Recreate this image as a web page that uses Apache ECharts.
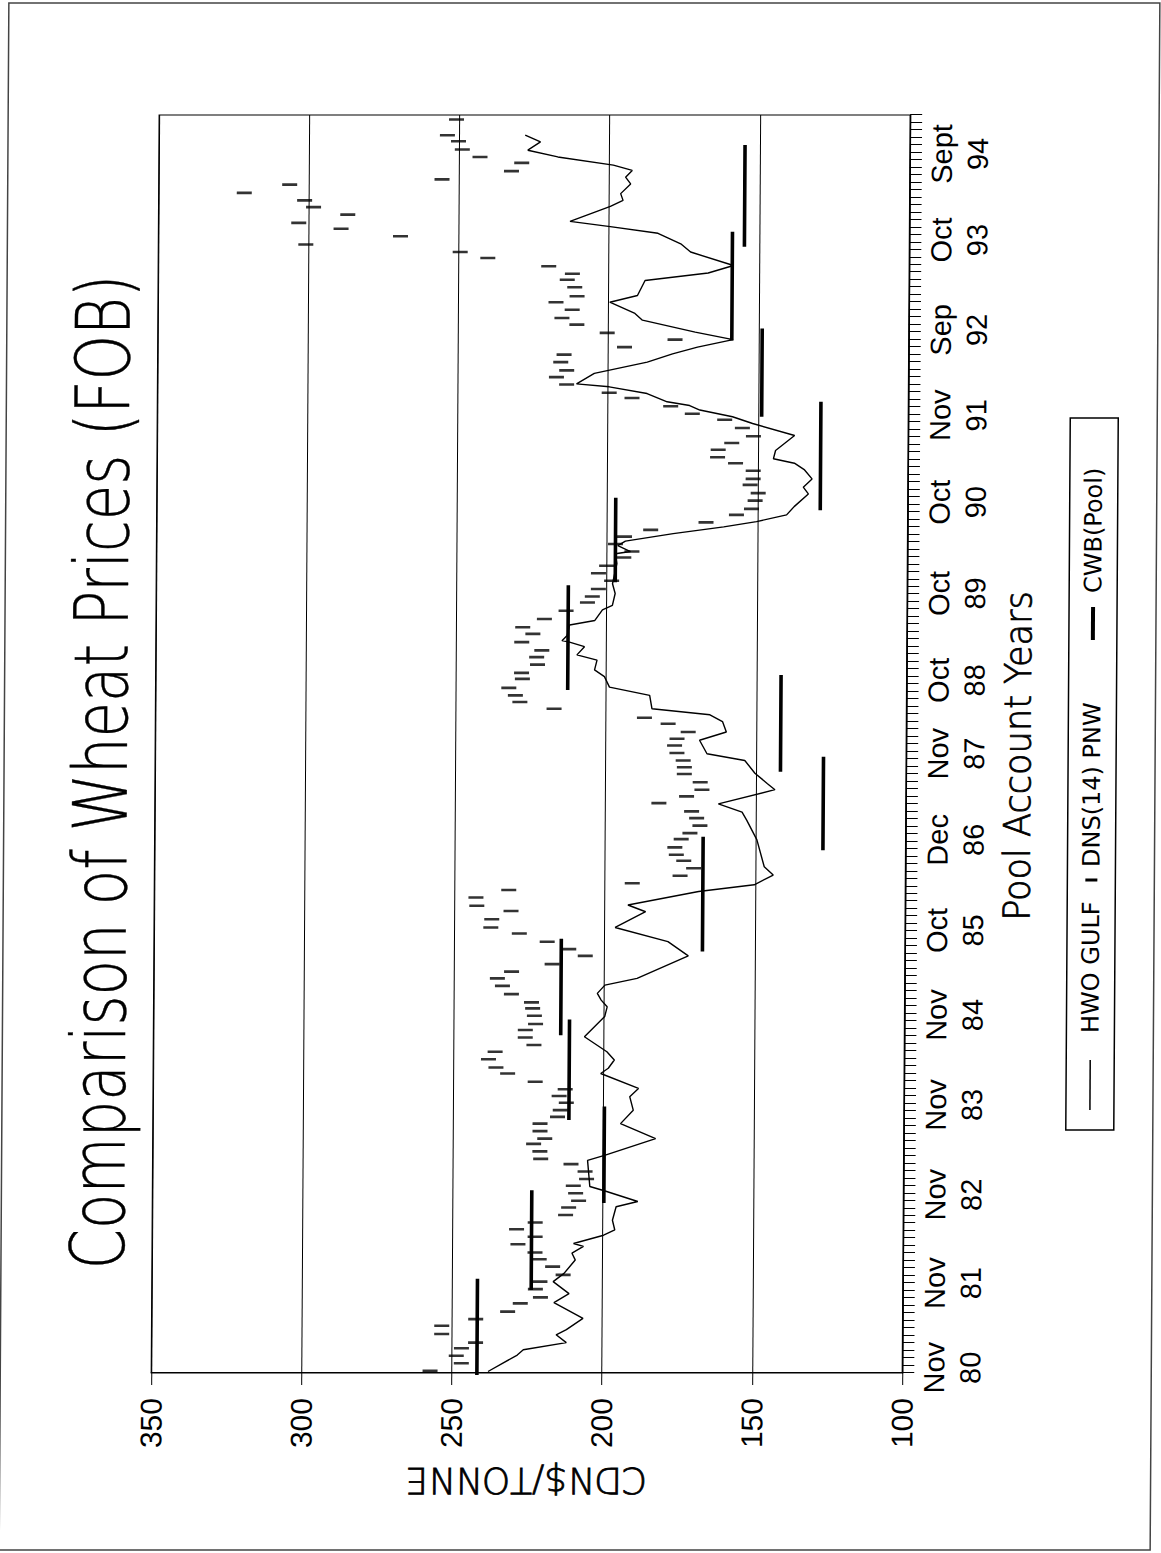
<!DOCTYPE html>
<html>
<head>
<meta charset="utf-8">
<title>Comparison of Wheat Prices (FOB)</title>
<script src="https://cdn.jsdelivr.net/npm/echarts@6/dist/echarts.min.js"></script>
<style>
  html, body { margin: 0; padding: 0; width: 1161px; height: 1553px; overflow: hidden; background: #fff; }
  /* the chart is laid out landscape and turned a quarter turn to stand on the page */
  #chart {
    position: absolute; left: -196px; top: 196px;
    width: 1553px; height: 1161px;
    transform: skewX(-0.36deg) rotate(-90deg);
  }
</style>
</head>
<body>
<div id="chart"></div>
<script>
// ---- time axis: observation index, labelled at the start of each pool account year ----
const timeLabelPos = [0.7, 12.0, 23.8, 35.8, 47.8, 59.1, 71.2, 82.7, 92.5, 104.1, 116.3, 127.9, 139.3, 151.3, 162.8];
const timeLabels = ['Nov\n80', 'Nov\n81', 'Nov\n82', 'Nov\n83', 'Nov\n84', 'Oct\n85', 'Dec\n86', 'Nov\n87',
                    'Oct\n88', 'Oct\n89', 'Oct\n90', 'Nov\n91', 'Sep\n92', 'Oct\n93', 'Sept\n94'];
const timeMin = 0, timeMax = 168;

// ---- price axis (CDN$/tonne) ----
const priceMin = 100, priceMax = 350, priceStep = 50;

// ---- HWO Gulf price, [index, CDN$/t] ----
const hwoGulf = [
  [0.2,237.9],[2.4,228.2],[3.1,226.2],[4.05,211.9],[5.1,215.3],[5.8,211.9],[7.3,206.4],[9.4,216.1],[10.6,211.1],
  [12.2,216.4],[13.3,212.8],[15.1,209.1],[16.0,210.2],[16.9,206.4],[17.3,209.7],[18.4,199.7],[19.1,196.0],[20.4,196.8],
  [22.2,195.6],[22.9,188.4],[24.3,199.3],[24.9,204.4],[28.4,205.2],[29.1,199.3],[31.3,182.6],[33.3,194.3],[35.1,190.1],
  [36.9,191.3],[38.0,188.4],[40.0,201.0],[40.7,198.5],[41.8,196.5],[42.9,199.0],[44.9,206.5],[47.6,199.8],[48.9,199.0],
  [49.8,201.0],[50.7,202.3],[51.8,199.8],[52.7,189.1],[55.7,172.1],[57.6,178.9],[59.5,196.5],[61.6,186.4],[62.5,192.3],
  [64.3,168.8],[65.2,150.3],[66.5,144.0],[67.6,147.0],[71.2,149.5],[73.8,152.9],[74.9,154.5],[76.0,162.4],[77.9,143.6],
  [78.7,146.1],[80.1,150.3],[81.8,153.7],[82.7,166.3],[84.5,168.8],[85.6,159.9],[87.0,161.2],[87.9,165.4],[88.7,184.7],
  [90.5,185.5],[91.6,198.9],[93.0,200.6],[93.9,203.9],[95.2,203.1],[95.9,209.8],[97.0,207.3],[97.6,212.3],[97.8,214.8],
  [98.5,213.1],[99.9,212.3],[100.5,203.9],[101.9,201.4],[102.5,198.1],[104.1,197.2],[105.4,198.1],[108.1,196.7],
  [109.4,197.2],[109.7,192.2],[110.5,196.4],[111.1,193.9],[112.1,178.0],[113.0,161.2],[113.7,150.3],[114.6,140.3],
  [115.7,137.8],[117.4,133.1],[118.3,134.8],[119.4,131.9],[120.6,134.4],[121.5,137.8],[122.1,144.8],[123.2,144.1],
  [125.2,137.8],[126.8,151.8],[127.7,158.5],[128.6,169.4],[129.2,172.8],[129.7,180.3],[130.8,187.0],[131.7,199.6],
  [132.1,210.5],[133.5,204.6],[135.0,187.0],[136.1,178.6],[137.0,170.3],[138.0,158.5],[139.0,171.1],[140.6,188.7],
  [141.5,191.2],[143.0,199.6],[143.9,190.4],[145.9,187.9],[146.9,166.9],[147.9,158.5],[149.7,172.8],[150.8,176.1],
  [152.2,183.7],[153.1,199.6],[153.8,213.0],[155.8,199.6],[156.6,195.4],[157.5,196.2],[158.8,192.9],[159.7,194.6],
  [160.6,192.4],[161.3,198.7],[162.4,217.2],[163.3,227.2],[164.4,223.0],[165.3,228.1]
];

// ---- DNS(14) PNW monthly quotes, [index, CDN$/t] ----
const dnsPnw = [
  [0.3,257.2],[1.3,246.8],[2.3,248.5],[3.3,246.8],[4.05,242.1],[5.2,253.4],[6.3,253.4],[7.2,242.1],[8.2,231.5],
  [9.3,227.3],[10.1,220.6],[11.2,222.3],[12.2,220.8],[13.1,213.1],[14.2,216.6],[15.2,221.1],[16.1,222.5],[17.2,228.2],
  [18.2,222.5],[19.2,228.7],[20.1,222.5],[21.1,212.4],[22.1,211.4],[23.0,208.1],[24.0,209.1],[25.0,209.9],[25.9,205.5],
  [26.9,206.0],[27.9,210.7],[28.6,220.8],[29.6,221.1],[30.6,223.2],[31.3,219.5],[32.3,221.1],[33.3,221.1],[34.2,215.3],
  [35.1,214.4],[36.1,212.4],[37.0,214.8],[37.9,212.8],[38.9,222.8],[40.0,232.0],[40.8,235.9],[41.9,238.4],[42.9,236.2],
  [43.8,223.3],[44.8,226.2],[45.8,226.2],[46.6,222.8],[47.7,223.2],[48.7,223.8],[49.5,224.2],[50.6,230.9],[51.7,233.9],
  [52.7,235.6],[53.6,230.9],[54.6,217.4],[55.7,206.4],[56.6,211.9],[57.6,219.1],[58.7,228.4],[59.5,237.9],[60.6,237.6],
  [61.7,231.2],[62.4,242.6],[63.5,242.9],[64.5,232.0],[65.4,190.9],[66.4,175.0],[67.4,170.5],[68.4,173.8],[69.2,176.3],
  [70.2,176.8],[71.3,174.7],[72.1,171.8],[73.1,168.5],[74.1,169.6],[75.0,171.3],[76.1,182.2],[77.0,173.0],[77.9,167.9],
  [78.9,168.5],[80.0,173.8],[80.9,173.8],[81.8,174.2],[82.8,176.3],[83.8,177.1],[84.7,176.3],[85.6,172.6],[86.7,179.3],
  [87.5,187.2],[88.7,217.3],[89.6,228.7],[90.5,230.2],[91.5,232.4],[92.7,227.9],[93.5,228.2],[94.6,222.9],[95.6,223.2],
  [96.5,221.5],[97.6,228.2],[98.7,224.5],[99.6,227.9],[100.7,220.7],[101.8,213.5],[102.9,206.4],[103.7,204.8],
  [104.7,202.8],[105.8,198.4],[106.8,202.8],[107.8,200.1],[108.9,194.4],[109.7,191.7],[110.7,197.2],[111.7,194.2],
  [112.6,185.5],[113.6,167.1],[114.6,157.0],[115.4,152.0],[116.5,150.8],[117.5,149.8],[118.6,152.5],[119.4,151.5],
  [120.5,151.5],[121.5,157.4],[122.3,163.4],[123.3,163.2],[124.2,158.7],[125.1,151.5],[126.2,155.2],[127.3,161.1],
  [128.1,171.9],[129.1,179.1],[130.2,192.0],[130.9,199.6],[132.0,213.8],[133.0,217.2],[133.9,213.8],[135.0,215.8],
  [136.0,214.7],[137.0,194.6],[138.0,177.8],[138.9,200.4],[140.0,210.5],[140.9,215.5],[142.0,212.1],[143.0,217.5],
  [143.8,210.5],[145.0,211.3],[146.0,213.8],[146.8,212.1],[147.8,220.0],[148.9,240.3],[149.7,249.5],[150.7,300.9],
  [151.8,269.4],[152.8,289.2],[153.6,303.3],[154.7,287.0],[155.7,298.4],[156.6,301.4],[157.6,321.5],[158.7,306.4],
  [159.4,255.7],[160.5,232.6],[161.6,229.2],[162.4,243.1],[163.4,249.0],[164.5,250.3],[165.3,254.0],[167.4,251.0]
];

// ---- CWB pool returns: [first index, last index, CDN$/t] ----
const cwbPool = [
  [-1.2, 12.6, 241.6], [11.1, 24.4, 223.7], [22.7, 35.6, 199.7], [33.8, 47.2, 211.5],
  [45.1, 58.0, 214.4], [56.3, 71.6, 167.4], [69.8, 82.3, 127.5], [80.3, 93.2, 141.8],
  [91.2, 105.2, 212.8], [105.6, 116.9, 197.2], [115.2, 129.7, 129.1], [127.7, 139.5, 148.8],
  [137.9, 152.4, 158.9], [150.4, 164.0, 154.9]
];

// one polyline, broken between pool years
const cwbLine = [];
cwbPool.forEach(([s, e, v]) => { cwbLine.push([s, v], [e, v], [e, '-']); });

const monthTicks = [];
for (let t = timeMin; t <= timeMax; t += 1) monthTicks.push(t);

const ink = '#000';
const labelFont = '"Liberation Sans", Arial, sans-serif';
const textFont = '"DejaVu Sans", "Liberation Sans", sans-serif';

const chart = echarts.init(document.getElementById('chart'), null, { renderer: 'svg' });

chart.setOption({
  animation: false,
  backgroundColor: '#fff',
  grid: { left: 180, right: 115, top: 155, bottom: 255, show: true, borderColor: ink, borderWidth: 1.2, backgroundColor: 'transparent' },
  xAxis: {
    type: 'value', min: timeMin, max: timeMax, interval: 1,
    axisLine: { lineStyle: { color: ink, width: 1.2 } },
    axisTick: { show: true, inside: false, length: 12, customValues: monthTicks, lineStyle: { color: ink, width: 1 } },
    axisLabel: {
      customValues: timeLabelPos,
      formatter: (val) => { const i = timeLabelPos.indexOf(val); return i >= 0 ? timeLabels[i] : ''; },
      margin: 14, color: ink, fontSize: 29, lineHeight: 36, fontFamily: labelFont, align: 'center'
    },
    splitLine: { show: false }
  },
  yAxis: {
    type: 'value', min: priceMin, max: priceMax, interval: priceStep,
    name: 'CDN$/TONNE', nameLocation: 'middle', nameGap: 90, nameRotate: 90,
    nameTextStyle: { color: ink, fontSize: 36, fontWeight: 200, fontFamily: textFont, textBorderColor: ink, textBorderWidth: 0.8 },
    axisLine: { show: true, lineStyle: { color: ink, width: 1.2 } },
    axisTick: { show: true, inside: false, length: 12, lineStyle: { color: ink, width: 1 } },
    axisLabel: { margin: 25, color: ink, fontSize: 30, fontFamily: labelFont },
    splitLine: { show: true, lineStyle: { color: ink, width: 1 } }
  },
  series: [
    {
      name: 'HWO GULF', type: 'line', data: hwoGulf, symbol: 'none', z: 4,
      lineStyle: { color: ink, width: 1.4 }
    },
    {
      name: 'DNS(14) PNW', type: 'scatter', data: dnsPnw, symbol: 'rect', symbolSize: [2.6, 15], z: 5,
      itemStyle: { color: ink, borderWidth: 0 }
    },
    {
      name: 'CWB(Pool)', type: 'line', data: cwbLine, symbol: 'none', connectNulls: false, clip: false, z: 3,
      lineStyle: { color: ink, width: 3.6 }
    }
  ],
  graphic: [
    { type: 'rect', silent: true, shape: { x: 3, y: 4, width: 1547, height: 1151 },
      style: { fill: 'none', stroke: '#444', lineWidth: 1.5 } },
    { type: 'text', silent: true, x: 781, y: 101, scaleX: 0.77,
      style: { text: 'Comparison of Wheat Prices (FOB)', fontSize: 75, fontWeight: 200, fontFamily: textFont, fill: ink,
               stroke: ink, lineWidth: 0.4,
               align: 'center', verticalAlign: 'middle', textAlign: 'center', textVerticalAlign: 'middle' } },
    { type: 'text', silent: true, x: 797, y: 1018, scaleX: 0.95,
      style: { text: 'Pool Account Years', fontSize: 37, fontWeight: 200, fontFamily: textFont, fill: ink,
               stroke: ink, lineWidth: 0.8,
               align: 'center', verticalAlign: 'middle', textAlign: 'center', textVerticalAlign: 'middle' } },
    {
      type: 'group', silent: true,
      children: [
        { type: 'rect', shape: { x: 423, y: 1068, width: 712, height: 48 }, style: { fill: '#fff', stroke: ink, lineWidth: 1.5 } },
        { type: 'line', shape: { x1: 443, y1: 1092, x2: 493, y2: 1092 }, style: { stroke: ink, lineWidth: 1.5 } },
        { type: 'text', x: 520, y: 1092, style: { text: 'HWO GULF', fontSize: 24, fontFamily: textFont, fill: ink,
            align: 'left', verticalAlign: 'middle', textAlign: 'left', textVerticalAlign: 'middle' } },
        { type: 'rect', shape: { x: 671.5, y: 1086, width: 3, height: 12 }, style: { fill: ink } },
        { type: 'text', x: 686, y: 1092, style: { text: 'DNS(14) PNW', fontSize: 24, fontFamily: textFont, fill: ink,
            align: 'left', verticalAlign: 'middle', textAlign: 'left', textVerticalAlign: 'middle' } },
        { type: 'line', shape: { x1: 913, y1: 1092, x2: 946, y2: 1092 }, style: { stroke: ink, lineWidth: 4 } },
        { type: 'text', x: 960, y: 1092, style: { text: 'CWB(Pool)', fontSize: 24, fontFamily: textFont, fill: ink,
            align: 'left', verticalAlign: 'middle', textAlign: 'left', textVerticalAlign: 'middle' } }
      ]
    }
  ]
});
</script>
</body>
</html>
